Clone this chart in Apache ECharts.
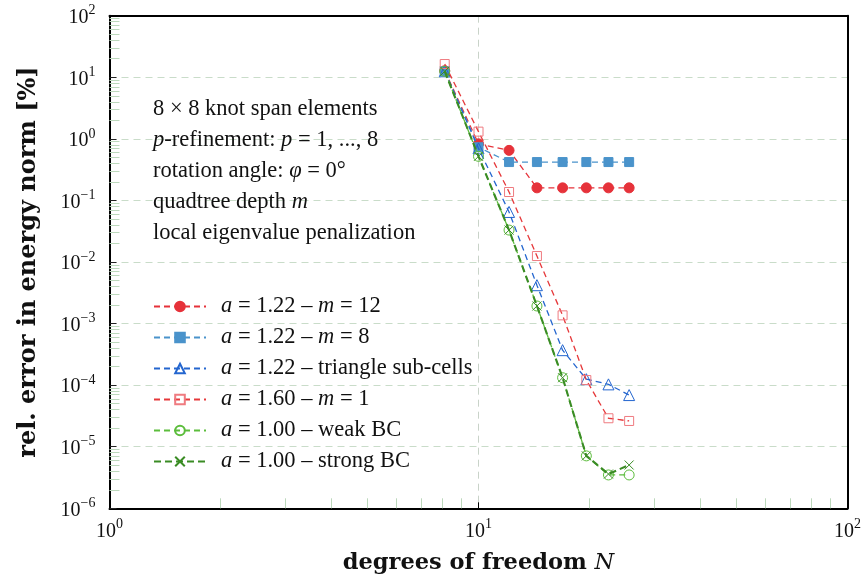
<!DOCTYPE html>
<html><head><meta charset="utf-8">
<script src="https://cdn.jsdelivr.net/npm/echarts@6/dist/echarts.min.js"></script>
<style>html,body{margin:0;padding:0;background:#fff}#c{width:864px;height:581px}</style>
</head><body><div id="c"></div>
<script>
// ---- data ----
const dofN = [8.1, 10, 12.1, 14.4, 16.9, 19.6, 22.5, 25.6];
const errM12 = [12.8, 0.83, 0.65, 0.16, 0.16, 0.16, 0.16, 0.16];
const errM8 = [12.5, 0.73, 0.42, 0.42, 0.42, 0.42, 0.42, 0.42];
const errTri = [12.5, 0.70, 0.065, 0.0042, 3.7e-4, 1.25e-4, 1.03e-4, 6.9e-5];
const errA160 = [16.4, 1.31, 0.137, 0.0125, 1.36e-3, 1.21e-4, 2.9e-5, 2.62e-5];
const errWeak = [12.5, 0.52, 0.033, 1.93e-3, 1.32e-4, 7.1e-6, 3.48e-6, 3.48e-6];
const errStrong = [12.5, 0.52, 0.033, 1.93e-3, 1.32e-4, 7.1e-6, 3.6e-6, 5.05e-6];
const seriesNames = ['a = 1.22 – m = 12', 'a = 1.22 – m = 8', 'a = 1.22 – triangle sub-cells',
  'a = 1.60 – m = 1', 'a = 1.00 – weak BC', 'a = 1.00 – strong BC'];
const legendLabels = ['{i|a} = 1.22 – {i|m} = 12', '{i|a} = 1.22 – {i|m} = 8', '{i|a} = 1.22 – triangle sub-cells',
  '{i|a} = 1.60 – {i|m} = 1', '{i|a} = 1.00 – weak BC', '{i|a} = 1.00 – strong BC'];
const noteLines = ['8 × 8 knot span elements', '{i|p}-refinement: {i|p} = 1, ..., 8',
  'rotation angle: {i|φ} = 0°', 'quadtree depth {i|m}', 'local eigenvalue penalization'];
const xTitle = '{b|degrees of freedom }{bi|N}';
const yTitle = 'rel. error in energy norm [%]';
const xRange = [1, 100];
const yRange = [1e-6, 100];
const minorMult = [2, 3, 4, 5, 6, 7, 8, 9];
const xMinor = [];
[1, 10].forEach(d => minorMult.forEach(m => xMinor.push(m * d)));
const yMinor = [];
for (let k = -6; k <= 1; k++) minorMult.forEach(m => yMinor.push(m * Math.pow(10, k)));

// ---- chart ----
const FONT = 'Liberation Serif';
const TFONT = 'DejaVu Serif';
const pair = arr => arr.map((v, i) => [dofN[i], v]);
const sup = v => {
  const e = Math.round(Math.log10(v));
  return '{b|10}{s|' + (e < 0 ? '−' + (-e) : e) + '}';
};
const tickRich = {
  b: {fontFamily: FONT, fontSize: 20, color: '#111', lineHeight: 24, verticalAlign: 'bottom'},
  s: {fontFamily: FONT, fontSize: 14, color: '#111', lineHeight: 14, verticalAlign: 'top'}
};
const crossPath = 'path://M0,0 L10,10 M10,0 L0,10';
function mk(i, data, o) {
  return {
    name: seriesNames[i], type: 'line', data: pair(data),
    symbol: o.symbol, symbolSize: o.size,
    lineStyle: {color: o.color, width: o.width || 1.3, type: o.dash || [6, 4]},
    itemStyle: {color: o.fill, borderColor: o.stroke, borderWidth: o.bw || 1},
    z: 3 + i, animation: false
  };
}
const series = [
  mk(0, errM12, {color: '#e6323a', symbol: 'circle', size: 10, fill: '#e6323a', stroke: '#e6323a', bw: 0}),
  mk(1, errM8, {color: '#4a93cb', symbol: 'rect', size: 9, fill: '#4a93cb', stroke: '#4a93cb', bw: 0}),
  mk(2, errTri, {color: '#2466cf', symbol: 'triangle', size: 11, fill: 'rgba(255,255,255,0)', stroke: '#2466cf'}),
  mk(3, errA160, {color: '#e6383a', symbol: 'rect', size: 9, fill: 'rgba(255,255,255,0)', stroke: '#ef7b80'}),
  mk(4, errWeak, {color: '#5cbd3c', symbol: 'circle', size: 10, fill: 'rgba(255,255,255,0)', stroke: '#5cbd3c'}),
  mk(5, errStrong, {color: '#3a8c24', symbol: crossPath, size: 9, fill: 'rgba(255,255,255,0)', stroke: '#3a8c24', width: 2.1, dash: [7, 4]})
];
const frameAxis = pos => ({
  type: 'log', logBase: 10, position: pos, z: 2,
  axisLine: {show: true, onZero: false, lineStyle: {color: '#000', width: 2}},
  axisTick: {show: false}, axisLabel: {show: false}, splitLine: {show: false}
});
const option = {
  backgroundColor: '#fff',
  animation: false,
  grid: {left: 109.5, right: 15.5, top: 15.7, bottom: 72.7, show: false},
  xAxis: [{
    type: 'log', logBase: 10, min: xRange[0], max: xRange[1], interval: 1, z: 1,
    axisLine: {show: true, onZero: false, lineStyle: {color: '#000', width: 2}},
    axisTick: {show: true, inside: true, length: 6, lineStyle: {color: '#000', width: 1}},
    axisLabel: {formatter: sup, rich: tickRich, margin: 9},
    splitLine: {show: true, lineStyle: {color: '#c9d3c9', type: [7, 5], width: 1}},
    name: xTitle, nameLocation: 'middle', nameGap: 43,
    nameTextStyle: {rich: {
      b: {fontFamily: TFONT, fontSize: 22.5, fontWeight: 'bold', color: '#111'},
      bi: {fontFamily: TFONT, fontSize: 22.5, fontStyle: 'italic', color: '#111'}
    }}
  }, {
    type: 'log', logBase: 10, min: xRange[0], max: xRange[1], position: 'bottom', z: 1,
    axisLine: {show: false}, axisLabel: {show: false}, splitLine: {show: false},
    axisTick: {show: true, inside: true, length: 10, customValues: xMinor, lineStyle: {color: '#bcd8bc', width: 1}}
  }, Object.assign(frameAxis('top'), {min: xRange[0], max: xRange[1]})],
  yAxis: [{
    type: 'log', logBase: 10, min: yRange[0], max: yRange[1], interval: 1, z: 1,
    axisLine: {show: true, onZero: false, lineStyle: {color: '#000', width: 2}},
    axisTick: {show: true, inside: true, length: 7, lineStyle: {color: '#222', width: 1}},
    axisLabel: {formatter: sup, rich: tickRich, margin: 14},
    splitLine: {show: true, lineStyle: {color: '#c9dcc9', type: [7, 5], width: 1}},
    name: yTitle, nameLocation: 'middle', nameGap: 69, nameRotate: 90,
    nameTextStyle: {fontFamily: TFONT, fontSize: 24, fontWeight: 'bold', color: '#111'}
  }, {
    type: 'log', logBase: 10, min: yRange[0], max: yRange[1], position: 'left', z: 1,
    axisLine: {show: false}, axisLabel: {show: false}, splitLine: {show: false},
    axisTick: {show: true, inside: true, length: 10, customValues: yMinor, lineStyle: {color: '#bcd8bc', width: 1}}
  }, Object.assign(frameAxis('right'), {min: yRange[0], max: yRange[1]})],
  legend: {
    orient: 'vertical', left: 153, top: 295, padding: 0, itemWidth: 52, itemHeight: 12, itemGap: 8,
    data: seriesNames,
    formatter: name => legendLabels[seriesNames.indexOf(name)],
    textStyle: {fontFamily: FONT, fontSize: 22.5, color: '#111', padding: [0, 0, 0, 10], lineHeight: 20,
      rich: {i: {fontFamily: FONT, fontSize: 22.5, fontStyle: 'italic', color: '#111', lineHeight: 20}}}
  },
  graphic: [{
    type: 'text', left: 153, top: 93.5, z: 10,
    style: {
      text: noteLines.join('\n'), fill: '#111', font: '22.5px "' + FONT + '"', lineHeight: 31,
      rich: {i: {fontFamily: FONT, fontSize: 22.5, fontStyle: 'italic', fill: '#111', lineHeight: 31}}
    }
  }],
  series: series
};
const chart = echarts.init(document.getElementById('c'), null, {renderer: 'canvas'});
chart.setOption(option);
</script></body></html>
